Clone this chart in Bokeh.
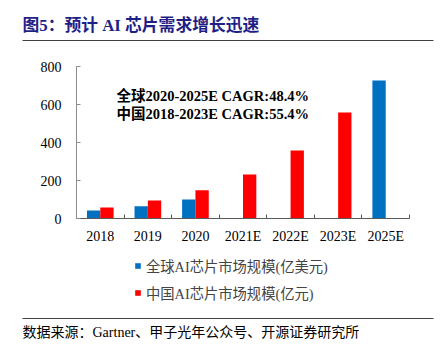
from bokeh.plotting import figure
from bokeh.layouts import column
from bokeh.models import (ColumnDataSource, Range1d, LinearAxis,
                          FixedTicker, Label, Legend, LegendItem)
from bokeh.transform import dodge
from bokeh.embed import file_html
from bokeh.resources import INLINE

# ---------------- data ----------------
categories = ["2018", "2019", "2020", "2021E", "2022E", "2023E", "2025E"]
global_years = ["2018", "2019", "2020", "2025E"]
global_values = [42, 65, 100, 726]
china_years = ["2018", "2019", "2020", "2021E", "2022E", "2023E"]
china_values = [58, 95, 149, 232, 358, 558]
y_ticks = [0, 200, 400, 600, 800]

title_text = "图5：预计 AI 芯片需求增长迅速"
note_lines = ["全球2020-2025E CAGR:48.4%", "中国2018-2023E CAGR:55.4%"]
legend_labels = ["全球AI芯片市场规模(亿美元)", "中国AI芯片市场规模(亿元)"]
source_text = "数据来源：Gartner、甲子光年公众号、开源证券研究所"

# ---------------- styles ----------------
FONT = "'Liberation Serif', 'Noto Sans CJK SC', serif"
BLUE = "#0070C0"
RED = "#FF0000"
RULE = "#404040"
W = 441


def blank(height):
    """A figure whose frame fills the canvas, in pixel units with y pointing down."""
    f = figure(width=W, height=height, x_range=Range1d(0, W), y_range=Range1d(height, 0),
               output_backend="svg", toolbar_location=None,
               x_axis_location=None, y_axis_location=None,
               min_border=0, min_border_left=0, min_border_right=0,
               min_border_top=0, min_border_bottom=0, frame_align=False)
    f.outline_line_color = None
    f.grid.visible = False
    f.background_fill_color = "white"
    f.border_fill_color = "white"
    return f


# ---------------- header ----------------
top = blank(45)
top.add_layout(Label(x=22, y=25, text=title_text, text_font=FONT, text_font_size="16.8px",
                     text_font_style="bold", text_color="#1f1f87", text_baseline="middle"))
top.line(x=[22, 433], y=[40, 40], line_color=RULE, line_width=1)

# ---------------- main chart ----------------
n = len(categories)
centers = [i + 0.5 for i in range(n)]          # slot centres on a numeric category scale
center_of = dict(zip(categories, centers))

p = figure(width=W, height=205,
           x_range=Range1d(0, n), y_range=Range1d(0, 800),
           output_backend="svg", toolbar_location=None,
           x_axis_location=None, frame_align=False,
           min_border_left=76, min_border_right=32, min_border_top=21, min_border_bottom=32)
p.outline_line_color = None
p.grid.visible = False
p.background_fill_color = "white"
p.border_fill_color = "white"

src_g = ColumnDataSource(dict(pos=[center_of[c] for c in global_years], cat=global_years, val=global_values))
src_c = ColumnDataSource(dict(pos=[center_of[c] for c in china_years], cat=china_years, val=china_values))
p.vbar(x=dodge("pos", -0.14), top="val", width=0.28, source=src_g, fill_color=BLUE, line_color=None)
p.vbar(x=dodge("pos", 0.14), top="val", width=0.28, source=src_c, fill_color=RED, line_color=None)

ya = p.yaxis[0]
ya.ticker = FixedTicker(ticks=y_ticks)
ya.major_tick_in = 4
ya.major_tick_out = 0
ya.minor_tick_line_color = None
ya.axis_line_color = "#8c8c8c"
ya.major_tick_line_color = "#8c8c8c"
ya.major_label_text_font = "Liberation Serif"
ya.major_label_text_font_size = "14px"
ya.major_label_text_color = "#000000"
ya.major_label_standoff = 15

bound_ticks = list(range(n + 1))
tick_axis = LinearAxis(ticker=FixedTicker(ticks=bound_ticks),
                       major_tick_in=4, major_tick_out=0, minor_tick_line_color=None,
                       axis_line_color="#595959", major_tick_line_color="#595959",
                       major_label_overrides={t: "" for t in bound_ticks},
                       major_label_standoff=0)
p.add_layout(tick_axis, "below")
cat_axis = LinearAxis(ticker=FixedTicker(ticks=centers, minor_ticks=[]),
                      major_label_overrides={c: lab for c, lab in zip(centers, categories)},
                      axis_line_color=None, major_tick_line_color=None, minor_tick_line_color=None,
                      major_tick_in=0, major_tick_out=0,
                      major_label_text_font="Liberation Serif",
                      major_label_text_font_size="14px",
                      major_label_text_color="#000000",
                      major_label_standoff=10)
p.add_layout(cat_axis, "below")

for i, line in enumerate(note_lines):
    p.add_layout(Label(x=40, y=123 - 18 * i, x_units="screen", y_units="screen", text=line,
                       text_font=FONT, text_font_size="14.5px",
                       text_font_style="bold", text_color="#000000", text_baseline="middle"))

# ---------------- footer: legend, rule, source ----------------
bot = blank(103)
# zero-size proxy bars that only carry the legend swatch colours
lg_g = bot.vbar(x=[0], top=[0], bottom=[0], width=0, fill_color=BLUE, line_color=None)
lg_c = bot.vbar(x=[0], top=[0], bottom=[0], width=0, fill_color=RED, line_color=None)
legend = Legend(items=[LegendItem(label=legend_labels[0], renderers=[lg_g]),
                       LegendItem(label=legend_labels[1], renderers=[lg_c])],
                location=(134, 50), orientation="vertical",
                glyph_width=7, glyph_height=7, label_standoff=5, spacing=6,
                padding=0, margin=0, border_line_color=None, background_fill_alpha=0,
                label_text_font=FONT, label_text_font_size="14.3px", label_height=20)
bot.add_layout(legend)
bot.line(x=[22, 433], y=[68, 68], line_color=RULE, line_width=1)
bot.add_layout(Label(x=22, y=82, text=source_text, text_font=FONT, text_font_size="14px",
                     text_color="#000000", text_baseline="middle"))

layout = column(top, p, bot, spacing=0)
open("out.html", "w").write(file_html(layout, INLINE))
